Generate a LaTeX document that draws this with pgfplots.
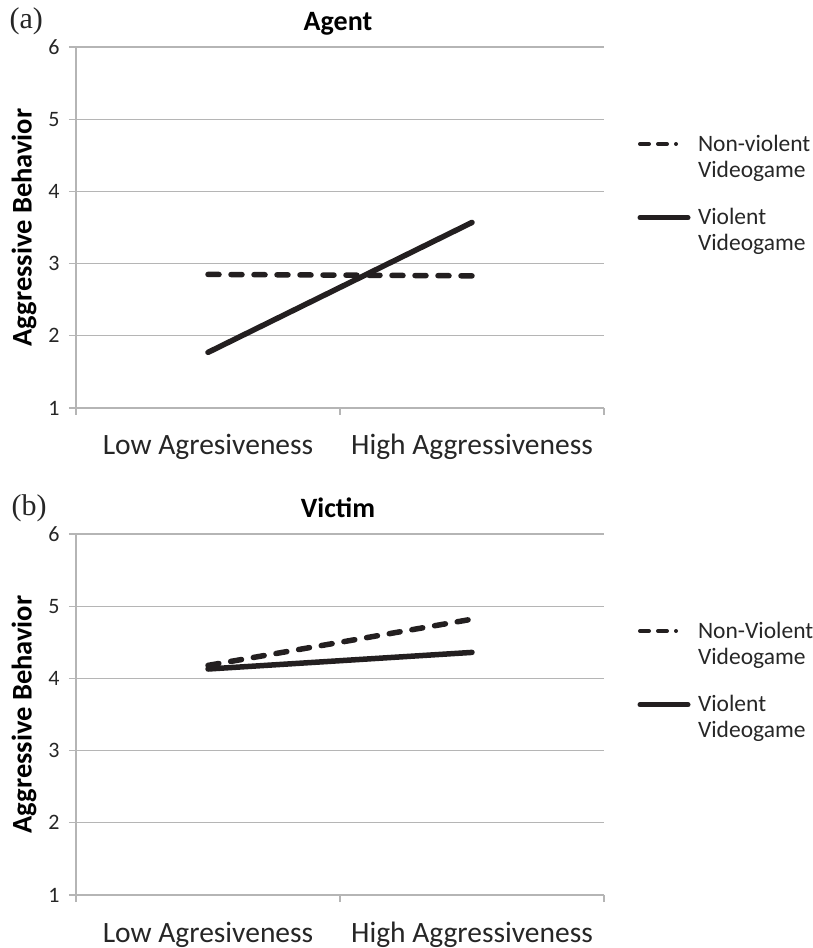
\documentclass[border=0pt]{standalone}
\usepackage{pgfplots}
\pgfplotsset{compat=1.18}
\usepackage{fontspec}
\setmainfont{Carlito}
\newfontfamily\serifpanel{Liberation Serif}
\definecolor{ln}{HTML}{231F20}
\definecolor{gr}{HTML}{B5B5B5}
\definecolor{tx}{HTML}{262626}

\pgfplotsset{
  panel/.style={
    scale only axis, width=528pt, height=361pt,
    xmin=0, xmax=2, ymin=1, ymax=6,
    xtick={0,1,2}, xticklabels={Low Agresiveness, High Aggressiveness},
    x tick label as interval,
    ytick={1,2,3,4,5,6},
    ymajorgrids, grid style={gr, line width=1.2pt},
    axis x line*=bottom, axis y line*=left,
    axis line style={gr, line width=1.2pt, -},
    tick align=outside,
    major tick length=7pt,
    tick style={gr, line width=1.2pt},
    /pgf/number format/assume math mode=true,
    yticklabel style={font=\fontsize{22}{26}\selectfont, text=tx, anchor=east, xshift=-6pt},
    xticklabel style={font=\fontsize{29.5}{34}\selectfont, text=tx, anchor=base, yshift=-40pt},
    title style={font=\bfseries\fontsize{28}{34}\selectfont, at={(axis description cs:0.5,1)}, anchor=base, yshift=10.5pt, xshift=-2pt},
    ylabel style={font=\bfseries\fontsize{28.5}{33}\selectfont, at={([xshift=-52pt]axis description cs:0,0.5)}, anchor=center},
    ylabel={Aggressive Behavior},
    legend style={draw=none, fill=none, inner sep=0pt, outer sep=0pt,
      at={([xshift=33.5pt]axis description cs:1,0.757)}, anchor=north west,
      row sep=30pt, column sep=7.5pt, font=\fontsize{23.5}{26}\selectfont, text=tx,
      cells={anchor=base west, align=left}, nodes={inner sep=0pt}},
  },
  dashedline/.style={ln, line width=5.5pt, line cap=round, dash pattern=on 11pt off 12pt,
    legend image code/.code={\draw[ln, line width=4pt, line cap=round, dash pattern=on 9pt off 9pt] (0pt,33pt) -- (36pt,33pt);}},
  solidline/.style={ln, line width=5.5pt, line cap=round,
    legend image code/.code={\draw[ln, line width=5pt, line cap=round] (0pt,33pt) -- (48pt,33pt);}},
}

\begin{document}
\begin{tikzpicture}
\useasboundingbox (0,0) rectangle (812pt,948pt);
\begin{axis}[panel, at={(76pt,540pt)}, anchor=south west, title={Agent}]
\addplot[dashedline] coordinates {(0.5,2.85) (1.5,2.83)};
\addplot[solidline] coordinates {(0.5,1.77) (1.5,3.57)};
\legend{{Non-violent\\Videogame},{Violent\\Videogame}}
\end{axis}
\begin{axis}[panel, at={(76pt,53pt)}, anchor=south west, title={Victim}]
\addplot[dashedline] coordinates {(0.5,4.18) (1.5,4.82)};
\addplot[solidline] coordinates {(0.5,4.13) (1.5,4.36)};
\legend{{Non-Violent\\Videogame},{Violent\\Videogame}}
\end{axis}
\node[font=\serifpanel\fontsize{30}{34}\selectfont, anchor=base west, text=tx] at (6pt,919pt) {(a)};
\node[font=\serifpanel\fontsize{30}{34}\selectfont, anchor=base west, text=tx] at (8pt,432pt) {(b)};
\end{tikzpicture}
\end{document}
